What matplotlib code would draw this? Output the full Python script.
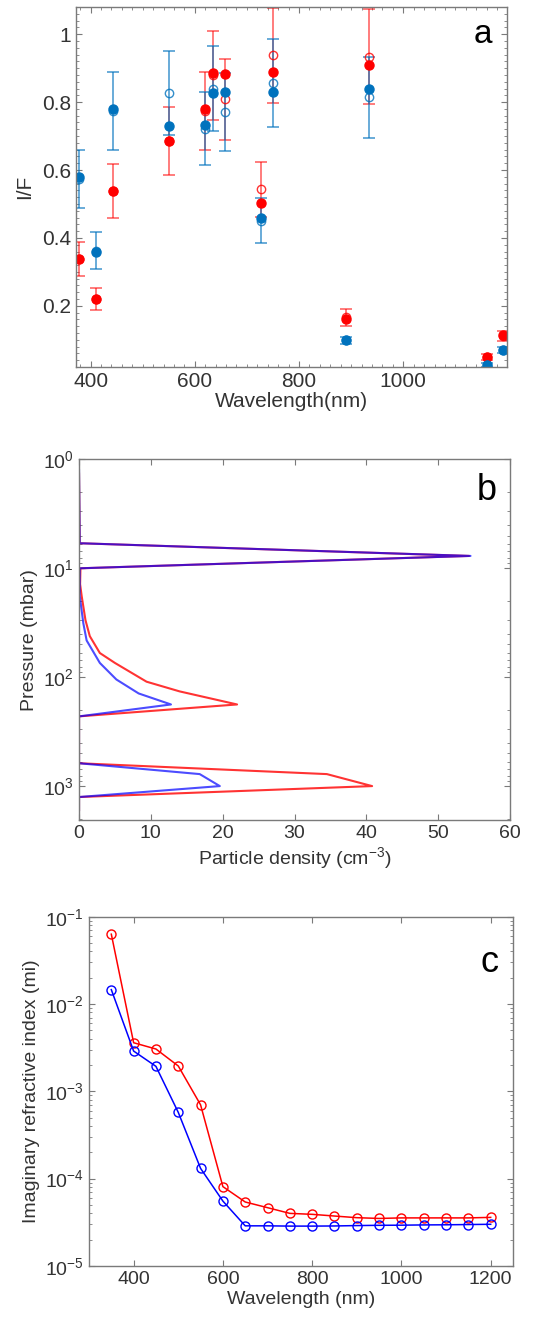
import numpy as np
import matplotlib
matplotlib.use("Agg")
import matplotlib.pyplot as plt
from matplotlib.ticker import MultipleLocator, LogLocator, NullFormatter, NullLocator

plt.rcParams['font.family'] = ['Liberation Sans', 'DejaVu Sans']
plt.rcParams['mathtext.fontset'] = 'custom'
plt.rcParams['mathtext.rm'] = 'Liberation Sans'
plt.rcParams['mathtext.it'] = 'Liberation Sans:italic'

# panel a: I/F at each filter wavelength (open = observed with error, filled = model)
wl_a = [378, 410, 443, 551, 619, 634, 658, 727, 750, 891, 935, 1161, 1192]
red_obs = [0.338, 0.220, 0.538, 0.686, 0.774, 0.879, 0.808, 0.543, 0.938, 0.166, 0.933, 0.049, 0.112]
red_err = [0.051, 0.033, 0.080, 0.100, 0.115, 0.131, 0.120, 0.080, 0.140, 0.024, 0.140, 0.008, 0.015]
red_mod = [0.337, 0.220, 0.538, 0.685, 0.779, 0.886, 0.882, 0.504, 0.889, 0.161, 0.908, 0.049, 0.115]
blue_obs = [0.574, 0.363, 0.774, 0.827, 0.722, 0.840, 0.771, 0.451, 0.857, 0.098, 0.814, 0.026, 0.070]
blue_err = [0.085, 0.054, 0.115, 0.124, 0.108, 0.126, 0.116, 0.066, 0.129, 0.010, 0.119, 0.005, 0.008]
blue_mod = [0.580, 0.358, 0.779, 0.729, 0.732, 0.828, 0.830, 0.460, 0.830, 0.098, 0.838, 0.026, 0.070]

# panel b: particle density profiles (pressure in mbar)
p_red = [1.35, 5.9, 5.9, 7.7, 10, 14, 18, 30, 42, 60, 74, 110, 135, 178, 229, 617, 776, 1000, 1260, 1660]
n_red = [0.0, 0.1, 0.5, 54.3, 0.2, 0.15, 0.37, 0.9, 1.5, 2.9, 5.0, 9.4, 14.0, 22.0, 0.0, 0.0, 34.5, 40.8, 0.0, 0.0]
p_blue = [1.25, 5.9, 5.9, 7.7, 10, 18, 32, 46, 74, 105, 141, 178, 229, 617, 776, 1000, 1260, 1660]
n_blue = [0.0, 0.1, 0.5, 54.5, 0.1, 0.1, 0.6, 1.06, 2.9, 5.2, 8.3, 12.8, 0.0, 0.0, 16.8, 19.6, 0.0, 0.0]

# panel c: imaginary refractive index
wl_c = [350, 400, 450, 500, 550, 600, 650, 700, 750, 800, 850, 900, 950, 1000, 1050, 1100, 1150, 1200]
mi_red = [0.063, 3.6e-3, 3.05e-3, 1.95e-3, 7.0e-4, 8.1e-5, 5.4e-5, 4.65e-5, 4.0e-5, 3.9e-5, 3.73e-5,
          3.57e-5, 3.5e-5, 3.55e-5, 3.55e-5, 3.55e-5, 3.55e-5, 3.6e-5]
mi_blue = [0.0146, 2.89e-3, 1.93e-3, 5.74e-4, 1.31e-4, 5.53e-5, 2.88e-5, 2.88e-5, 2.86e-5, 2.86e-5,
           2.87e-5, 2.9e-5, 2.92e-5, 2.93e-5, 2.95e-5, 2.96e-5, 2.98e-5, 3.0e-5]

RED = '#ff0000'
MBLUE = '#0072bd'
BLUE = '#0000ff'
TXT = '#333333'
SPINE = '#7a7a7a'


def style_axes(ax, fs):
    for s in ax.spines.values():
        s.set_color(SPINE)
        s.set_linewidth(1.0)
    ax.tick_params(which='both', direction='in', top=True, right=True, colors=SPINE,
                   labelcolor=TXT, labelsize=fs)
    ax.tick_params(which='major', length=4)
    ax.tick_params(which='minor', length=2)


fig = plt.figure(figsize=(5.45, 13.22), dpi=100)

# ---- a ----
ax1 = fig.add_axes([0.1394, 0.7224, 0.7908, 0.2723])
ax1.errorbar(wl_a, red_obs, yerr=red_err, fmt='none', ecolor=RED, elinewidth=1.1,
             capsize=4, capthick=1.1, alpha=0.65)
ax1.errorbar(wl_a, blue_obs, yerr=blue_err, fmt='none', ecolor=MBLUE, elinewidth=1.1,
             capsize=4, capthick=1.1, alpha=0.75)
ax1.plot(wl_a, red_obs, 'o', mfc='none', mec=RED, ms=6, mew=1.0, alpha=0.8)
ax1.plot(wl_a, red_mod, 'o', color=RED, ms=6.5)
ax1.plot(wl_a, blue_obs, 'o', mfc='none', mec=MBLUE, ms=6, mew=1.0, alpha=0.8)
ax1.plot(wl_a, blue_mod, 'o', color=MBLUE, ms=6.5)
ax1.set_xlim(372, 1199)
ax1.set_ylim(0.02, 1.08)
ax1.set_xticks([400, 600, 800, 1000])
ax1.set_yticks([0.2, 0.4, 0.6, 0.8, 1.0])
ax1.set_yticklabels(['0.2', '0.4', '0.6', '0.8', '1'])
ax1.xaxis.set_minor_locator(MultipleLocator(20))
ax1.yaxis.set_minor_locator(MultipleLocator(0.02))
style_axes(ax1, 15)
ax1.set_xlabel('Wavelength(nm)', fontsize=15, color=TXT, labelpad=1)
ax1.set_ylabel('I/F', fontsize=15, color=TXT, labelpad=6)
ax1.text(0.945, 0.925, 'a', transform=ax1.transAxes, fontsize=24, ha='center', va='center')

# ---- b ----
ax2 = fig.add_axes([0.145, 0.3797, 0.7908, 0.2728])
ax2.plot(n_red, p_red, color=RED, lw=1.5, alpha=0.8)
ax2.plot(n_blue, p_blue, color=BLUE, lw=1.5, alpha=0.7)
ax2.set_yscale('log')
ax2.set_ylim(2050, 1)
ax2.set_xlim(0, 60)
ax2.set_xticks([0, 10, 20, 30, 40, 50, 60])
ax2.yaxis.set_major_locator(LogLocator(base=10, numticks=10))
ax2.yaxis.set_minor_locator(LogLocator(base=10, subs=np.arange(2, 10), numticks=10))
ax2.yaxis.set_minor_formatter(NullFormatter())
style_axes(ax2, 14)
ax2.set_xlabel('Particle density (cm$^{-3}$)', fontsize=14, color=TXT, labelpad=2)
ax2.set_ylabel('Pressure (mbar)', fontsize=14, color=TXT, labelpad=4)
ax2.text(0.945, 0.915, 'b', transform=ax2.transAxes, fontsize=26, ha='center', va='center')

# ---- c ----
ax3 = fig.add_axes([0.1633, 0.0424, 0.778, 0.2642])
ax3.plot(wl_c, mi_red, '-o', color=RED, mfc='none', ms=6.5, lw=1.1, mew=1.0)
ax3.plot(wl_c, mi_blue, '-o', color=BLUE, mfc='none', ms=6.5, lw=1.1, mew=1.0)
ax3.set_yscale('log')
ax3.set_ylim(1e-5, 1e-1)
ax3.set_xlim(300, 1250)
ax3.set_xticks([400, 600, 800, 1000, 1200])
ax3.xaxis.set_minor_locator(NullLocator())
ax3.yaxis.set_major_locator(LogLocator(base=10, numticks=10))
ax3.yaxis.set_minor_locator(LogLocator(base=10, subs=np.arange(2, 10), numticks=10))
ax3.yaxis.set_minor_formatter(NullFormatter())
style_axes(ax3, 14)
ax3.set_xlabel('Wavelength (nm)', fontsize=14, color=TXT, labelpad=2)
ax3.set_ylabel('Imaginary refractive index (mi)', fontsize=14, color=TXT, labelpad=4)
ax3.text(0.945, 0.87, 'c', transform=ax3.transAxes, fontsize=26, ha='center', va='center')

fig.savefig('out.png', dpi=100)
